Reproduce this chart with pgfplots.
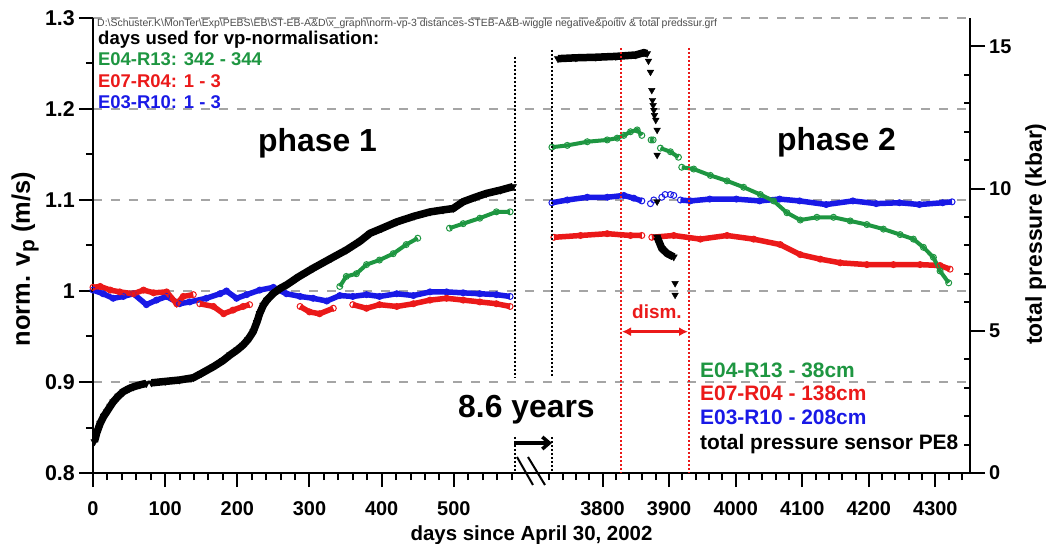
\documentclass[border=0pt]{standalone}
\usepackage{fontspec}
\setmainfont{Liberation Sans}
\usepackage{pgfplots}
\pgfplotsset{compat=1.18}
\usetikzlibrary{arrows.meta}

\definecolor{vgreen}{RGB}{30,150,65}
\definecolor{vred}{RGB}{235,25,25}
\definecolor{vblue}{RGB}{25,25,230}
\definecolor{gridgray}{RGB}{165,165,165}
\newcommand\fB[1]{\bfseries\fontsize{#1}{#1}\selectfont}

\pgfplotsset{
  brokenx/.style={
    scale only axis, width=877bp, height=455bp,
    xmin=0, xmax=4352,
    unbounded coords=jump,
    tick align=outside,
    tick style={black, line width=2bp},
    axis line style={line width=2bp},
    /pgf/number format/assume math mode=true,
    tick label style={font=\fB{20}},
  },
  vpline/.style={line width=5.5bp, mark=o, mark size=3bp, mark options={line width=1bp, solid}},
}

\begin{document}
\begin{tikzpicture}
\begin{axis}[brokenx, name=main,
  x coord trafo/.code={\pgfmathparse{(#1<2000)*(#1*0.7213)+(#1>=2000)*(509.3+(#1-3800)*0.6654)}},
  ymin=0.8, ymax=1.3,
  axis x line*=bottom, axis y line*=left,
  xtick={0,100,200,300,400,500,3800,3900,4000,4100,4200,4300},
  xticklabels={0,100,200,300,400,500,3800,3900,4000,4100,4200,4300},
  minor xtick={20,40,...,580,3720,3740,...,4340},
  ytick={0.8,0.9,1,1.1,1.2,1.3},
  yticklabels={0.8,0.9,1,1.1,1.2,1.3},
  minor ytick={0.85,0.95,1.05,1.15,1.25},
  major tick length=14bp, minor tick length=7bp,
  ymajorgrids, major grid style={gridgray, line width=1.3bp, dash pattern=on 9bp off 9bp},
  xticklabel style={anchor=north, inner sep=0pt, yshift=-14bp},
  yticklabel style={anchor=east, inner sep=0pt, xshift=-4bp, font=\fB{21.5}},
  xlabel={days since April 30, 2002},
  xlabel style={at={(axis description cs:0.5,0)}, anchor=base, yshift=-67bp, font=\fB{20.5}},
  ylabel={norm. v{\fontsize{21}{21}\selectfont\raisebox{-0.22em}{p}} (m/s)},
  ylabel style={at={(axis description cs:-0.0775,0.47)}, anchor=center, rotate=0, font=\fB{25.5}},
]
% E03-R10 (blue)
\addplot[vpline, vblue] table {
day vp
0 1.001
14 0.997
28 0.992
42 0.994
56 0.997
74 0.985
88 0.990
102 0.994
120 0.986
134 0.988
157 0.992
176 0.997
185 1.000
199 0.992
213 0.996
231 1.001
250 1.004
268 0.997
287 0.994
305 0.992
324 0.989
342 0.995
360 0.994
379 0.996
397 0.994
421 0.997
444 0.995
467 0.999
490 0.999
513 0.998
536 0.997
559 0.996
578 0.994
3724 nan
3724 1.097
3747 1.100
3777 1.103
3807 1.103
3832 1.105
3847 1.102
3859 1.099
3917 nan
3917 1.100
3932 1.099
3961 1.101
4001 1.101
4036 1.099
4066 1.101
4096 1.099
4136 1.095
4176 1.099
4211 1.096
4246 1.097
4276 1.095
4311 1.097
4325 1.098
};
\addplot[only marks, mark=o, mark size=3bp, mark options={line width=1bp}, vblue] table {
day vp
3872 1.096
3877 1.100
3889 1.103
3894 1.106
3902 1.106
3907 1.105
};
% E07-R04 (red)
\addplot[vpline, vred] table {
day vp
0 1.004
10 1.005
24 1.001
37 0.999
56 0.997
70 1.001
84 0.998
102 0.999
116 0.986
125 0.994
139 0.996
144 nan
148 0.986
167 0.983
181 0.975
194 0.979
208 0.983
217 0.985
250 nan
287 0.983
300 0.977
314 0.975
333 0.981
345 nan
360 0.985
379 0.981
397 0.985
421 0.983
444 0.986
467 0.990
490 0.992
513 0.990
536 0.988
559 0.986
578 0.983
3727 nan
3727 1.059
3767 1.061
3807 1.063
3842 1.061
3859 1.061
3866 nan
3874 1.059
3907 1.061
3947 1.057
3987 1.061
4027 1.057
4067 1.051
4097 1.040
4127 1.035
4157 1.031
4197 1.029
4237 1.029
4277 1.029
4307 1.028
4322 1.024
};
% E04-R13 (green)
\addplot[vpline, vgreen, line width=4bp] table {
day vp
342 1.005
351 1.016
365 1.019
379 1.029
397 1.034
416 1.041
434 1.051
450 1.058
470 nan
494 1.069
513 1.074
536 1.080
559 1.087
578 1.087
3724 nan
3724 1.158
3747 1.160
3777 1.164
3807 1.166
3822 1.168
3832 1.171
3842 1.175
3852 1.177
3859 1.171
3866 nan
3873 1.166
3876 1.166
3880 nan
3887 1.157
3902 1.153
3914 1.147
3916 nan
3919 1.136
3937 1.134
3962 1.127
3987 1.121
4012 1.114
4037 1.106
4057 1.099
4077 1.086
4097 1.078
4122 1.081
4147 1.081
4172 1.077
4197 1.073
4222 1.068
4247 1.062
4267 1.057
4282 1.048
4297 1.037
4307 1.022
4320 1.009
};
\end{axis}

\begin{axis}[brokenx,
  x coord trafo/.code={\pgfmathparse{(#1<2000)*(#1*0.7213)+(#1>=2000)*(509.3+(#1-3800)*0.6654)}},
  ymin=0, ymax=16,
  axis x line=none, axis y line*=right, xtick=\empty,
  ytick={0,5,10,15}, yticklabels={0,5,10,15},
  extra y ticks={1,2,3,4,6,7,8,9,11,12,13,14},
  extra y tick labels={},
  extra y tick style={tick align=inside, major tick length=6bp},
  major tick length=15bp,
  yticklabel style={anchor=west, inner sep=0pt, xshift=4bp},
  ylabel={total pressure (kbar)},
  ylabel style={at={(axis description cs:1.0753,0.525)}, anchor=center, rotate=0, font=\fB{23}},
]
% total pressure sensor PE8, dense runs
\addplot[black, line width=7.5bp, mark=triangle*, mark size=4bp, mark options={rotate=180, line width=0.5bp}] table {
day p
2 1.1
5 1.4
10 1.75
15 2.0
19 2.15
24 2.35
28 2.5
35 2.7
42 2.86
50 2.97
56 3.03
65 3.1
74 3.15
78 nan
81 3.17
100 3.22
120 3.27
139 3.35
150 3.5
167 3.74
180 3.95
190 4.15
200 4.33
208 4.5
215 4.7
222 4.97
227 5.3
231 5.61
236 5.9
241 6.08
250 6.32
260 6.5
268 6.61
285 6.9
305 7.2
330 7.55
351 7.84
370 8.15
384 8.43
400 8.6
421 8.83
445 9.03
467 9.18
485 9.25
499 9.3
513 9.54
530 9.7
545 9.83
565 9.95
582 10.07
3733 nan
3733 14.57
3760 14.6
3790 14.62
3820 14.65
3850 14.7
3862 14.78
3867 14.75
3870 nan
3882 8.3
3889 7.9
3897 7.72
3907 7.6
};
% total pressure sensor PE8, single readings
\addplot[only marks, black, mark=triangle*, mark size=3.8bp, mark options={rotate=180}] table {
day p
3869 14.49
3872 14.1
3874 13.46
3875 13.11
3876 12.93
3877 12.76
3878 12.58
3880 12.41
3882 12.06
3882 11.18
3882 9.54
3909 6.67
3909 6.26
};
\end{axis}

\begin{scope}[shift={(main.south west)}, xshift=-93bp, yshift=473bp, x=1bp, y=-1bp]
  % break of the time axis
  \draw[black, line width=2bp, dash pattern=on 2bp off 2bp] (515,57) -- (515,378) (515,437) -- (515,473);
  \draw[black, line width=2bp, dash pattern=on 2bp off 2bp] (551.5,50) -- (551.5,378) (551.5,437) -- (551.5,473);
  \draw[black, line width=2bp] (517,457) -- (533,485) (528,457) -- (545,485);
  \node[anchor=base west, inner sep=0pt, font=\fB{32}] at (458,418) {8.6 years};
  \draw[line width=3.5bp, -{Straight Barb[length=7bp, width=12bp]}] (514,443) -- (552,443);
  % dismantling
  \draw[vred, line width=2bp, dash pattern=on 2bp off 2bp] (621,48) -- (621,473) (688.5,48) -- (688.5,473);
  \draw[vred, line width=2.5bp, {Latex[length=9bp, width=9bp]}-{Latex[length=9bp, width=9bp]}] (622,331.7) -- (688,331.7);
  \node[anchor=base west, inner sep=0pt, text=vred, font=\fB{19}] at (632,318.3) {dism.};
  % phases
  \node[anchor=base west, inner sep=0pt, font=\fB{32}] at (258,151.7) {phase 1};
  \node[anchor=base west, inner sep=0pt, font=\fB{32}] at (777,151) {phase 2};
  % top left notes
  \node[anchor=base west, inner sep=0pt, text=black!70, font=\fontsize{10.5}{10.5}\selectfont] at (97,27) {D:\textbackslash Schuster.K\textbackslash MonTer\textbackslash Exp\textbackslash PEBS\textbackslash EB\textbackslash ST-EB-A\&D\textbackslash x\_graph\textbackslash norm-vp-3 distances-STEB-A\&B-wiggle negative\&poitiv \& total predssur.grf};
  \node[anchor=base west, inner sep=0pt, font=\fB{18.6}] at (98,45) {days used for vp-normalisation:};
  \node[anchor=base west, inner sep=0pt, text=vgreen, font=\fB{18.5}] at (98,66) {E04-R13: 342 - 344};
  \node[anchor=base west, inner sep=0pt, text=vred, font=\fB{18.5}] at (98,87.3) {E07-R04: 1 - 3};
  \node[anchor=base west, inner sep=0pt, text=vblue, font=\fB{18.5}] at (98,108.3) {E03-R10: 1 - 3};
  % bottom right legend
  \node[anchor=base west, inner sep=0pt, text=vgreen, font=\fB{21}] at (700,377.3) {E04-R13 - 38cm};
  \node[anchor=base west, inner sep=0pt, text=vred, font=\fB{21}] at (700,400.7) {E07-R04 - 138cm};
  \node[anchor=base west, inner sep=0pt, text=vblue, font=\fB{21}] at (700,425) {E03-R10 - 208cm};
  \node[anchor=base west, inner sep=0pt, text=black, font=\fB{21}] at (700,450) {total pressure sensor PE8};
  \pgfresetboundingbox
  \path[use as bounding box] (0,0) rectangle (1046,544);
\end{scope}
\end{tikzpicture}
\end{document}
